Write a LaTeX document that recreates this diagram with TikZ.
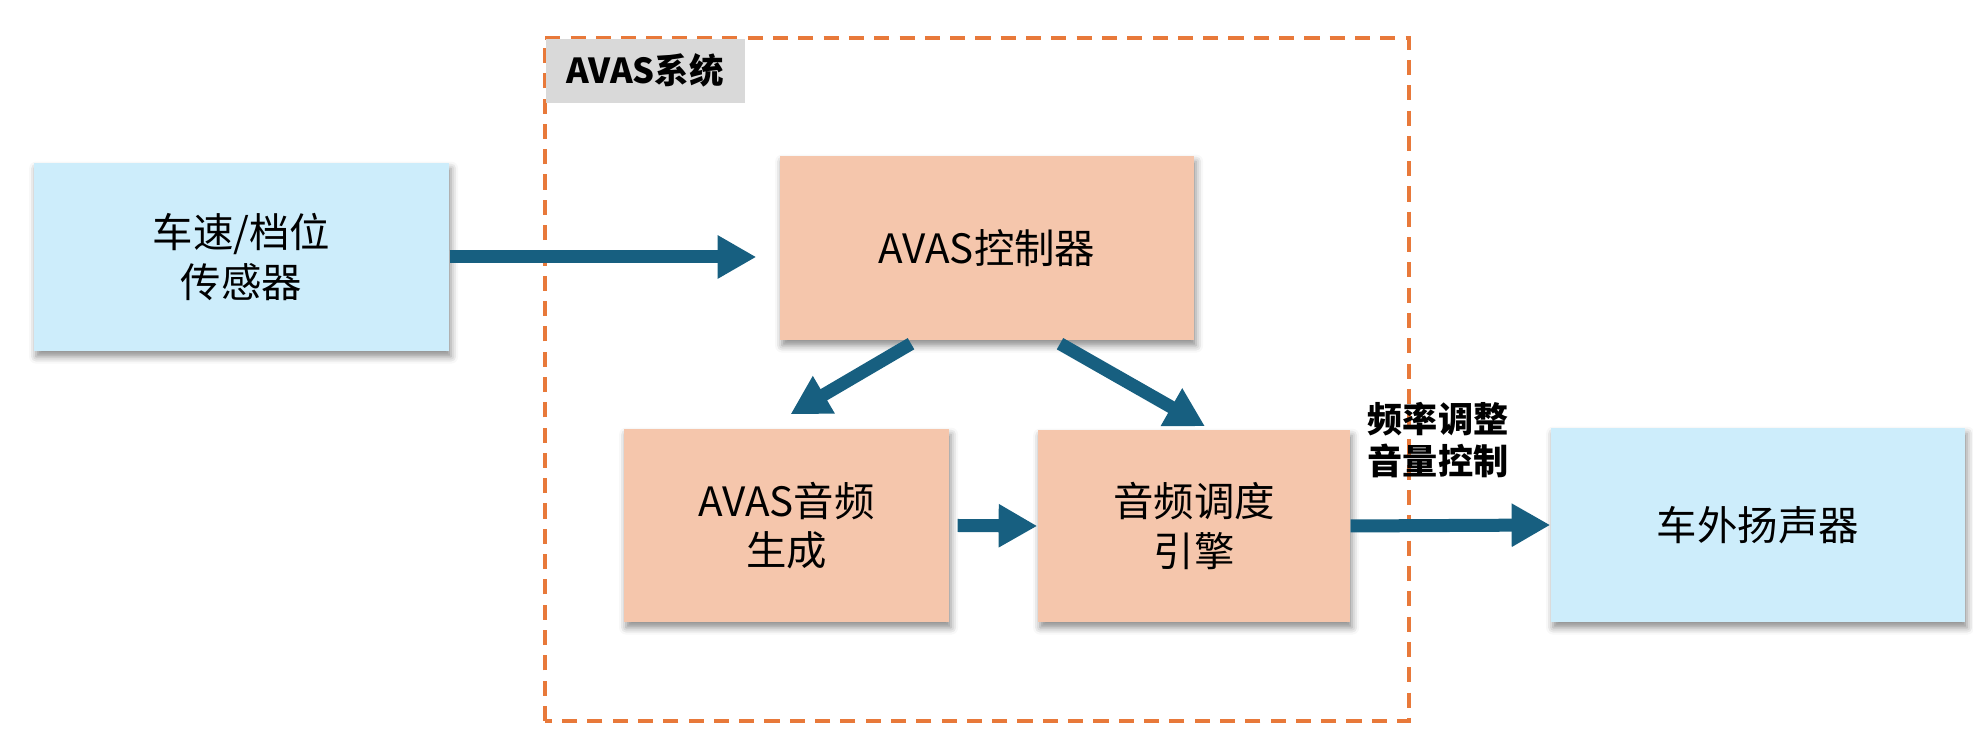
\documentclass[tikz,border=0pt]{standalone}
\usepackage{fontspec}
\setmainfont{Noto Sans CJK SC}
\usetikzlibrary{arrows.meta, positioning, calc, shadows.blur}

\begin{document}
\begin{tikzpicture}[
    every node/.style={font=\fontsize{11.5pt}{14pt}\selectfont},
]

% ---------------------------------------------------------------- colours
\definecolor{c1}{HTML}{CDEDFB}   % outside parts: sensor, speaker
\definecolor{c2}{HTML}{F5C6AC}   % inside the AVAS system
\definecolor{c3}{HTML}{175F80}   % signal arrows
\definecolor{c4}{HTML}{E8793A}   % system border
\definecolor{tagcolor}{HTML}{D9D9D9}

% ---------------------------------------------------------------- styles
\tikzset{
    outer/.style={
        rectangle, minimum width=4.15cm, minimum height=1.88cm,
        fill=c1, align=center,
        blur shadow={shadow xshift=0.6pt, shadow yshift=-1.6pt,
                     shadow blur radius=2pt, shadow opacity=45},
    },
    inner/.style={
        rectangle, fill=c2, align=center,
        blur shadow={shadow xshift=0.6pt, shadow yshift=-1.6pt,
                     shadow blur radius=2pt, shadow opacity=45},
    },
    flow/.style={
        -{Triangle[length=11pt, width=11.6pt]},
        line width=3.7pt, draw=c3,
    },
}

\useasboundingbox (0, 0) rectangle (19.73, 7.36);

% ================================================================
% GEOMETRY (1 px of the layout = 0.01 cm)
%   outer row      sensor y = 4.79, speaker y = 2.11
%   system frame   x = 5.45 .. 14.09, y = 0.15 .. 6.98
%   controller     y = 4.88, lower pair y = 2.10
% ================================================================

% ---------------------------------------------------------------- the system frame
\draw[c4, line width=0.9pt, dash pattern=on 4.3pt off 2.9pt]
    (5.45, 0.15) rectangle (14.09, 6.98);
\node[fill=tagcolor, anchor=north west, minimum width=1.99cm,
      minimum height=0.64cm, font=\fontsize{9.8pt}{11pt}\selectfont\bfseries]
    (tag) at (5.45, 6.98) {AVAS系统};

% ---------------------------------------------------------------- the blocks
\node[outer] (sensor) at (2.415, 4.79) {车速/档位\\传感器};
\node[inner, minimum width=4.14cm, minimum height=1.84cm]
    (ctrl) at (9.87, 4.88) {AVAS控制器};
\node[inner, minimum width=3.25cm, minimum height=1.93cm]
    (gen) at (7.865, 2.105) {AVAS音频\\生成};
\node[inner, minimum width=3.12cm, minimum height=1.92cm]
    (engine) at (11.94, 2.10) {音频调度\\引擎};
\node[outer, minimum width=4.14cm, minimum height=1.94cm]
    (speaker) at (17.58, 2.11) {车外扬声器};

% ---------------------------------------------------------------- the signals
\draw[flow, shorten >=0.23cm] (sensor.east) -- (sensor.east -| ctrl.west);
\draw[flow] ([xshift=-0.76cm, yshift=-0.03cm]ctrl.south)
    -- ([xshift=0.04cm, yshift=0.14cm]gen.north);
\draw[flow] ([xshift=0.73cm, yshift=-0.03cm]ctrl.south)
    -- ([xshift=0.11cm, yshift=0.03cm]engine.north);
\draw[flow] ([xshift=0.08cm]gen.east) -- (engine.west);
\draw[flow] (engine.east) -- (speaker.west);

\node[font=\fontsize{10pt}{12pt}\selectfont\bfseries, align=center]
    (ctl) at (14.38, 2.96) {频率调整\\音量控制};

\end{tikzpicture}
\end{document}
